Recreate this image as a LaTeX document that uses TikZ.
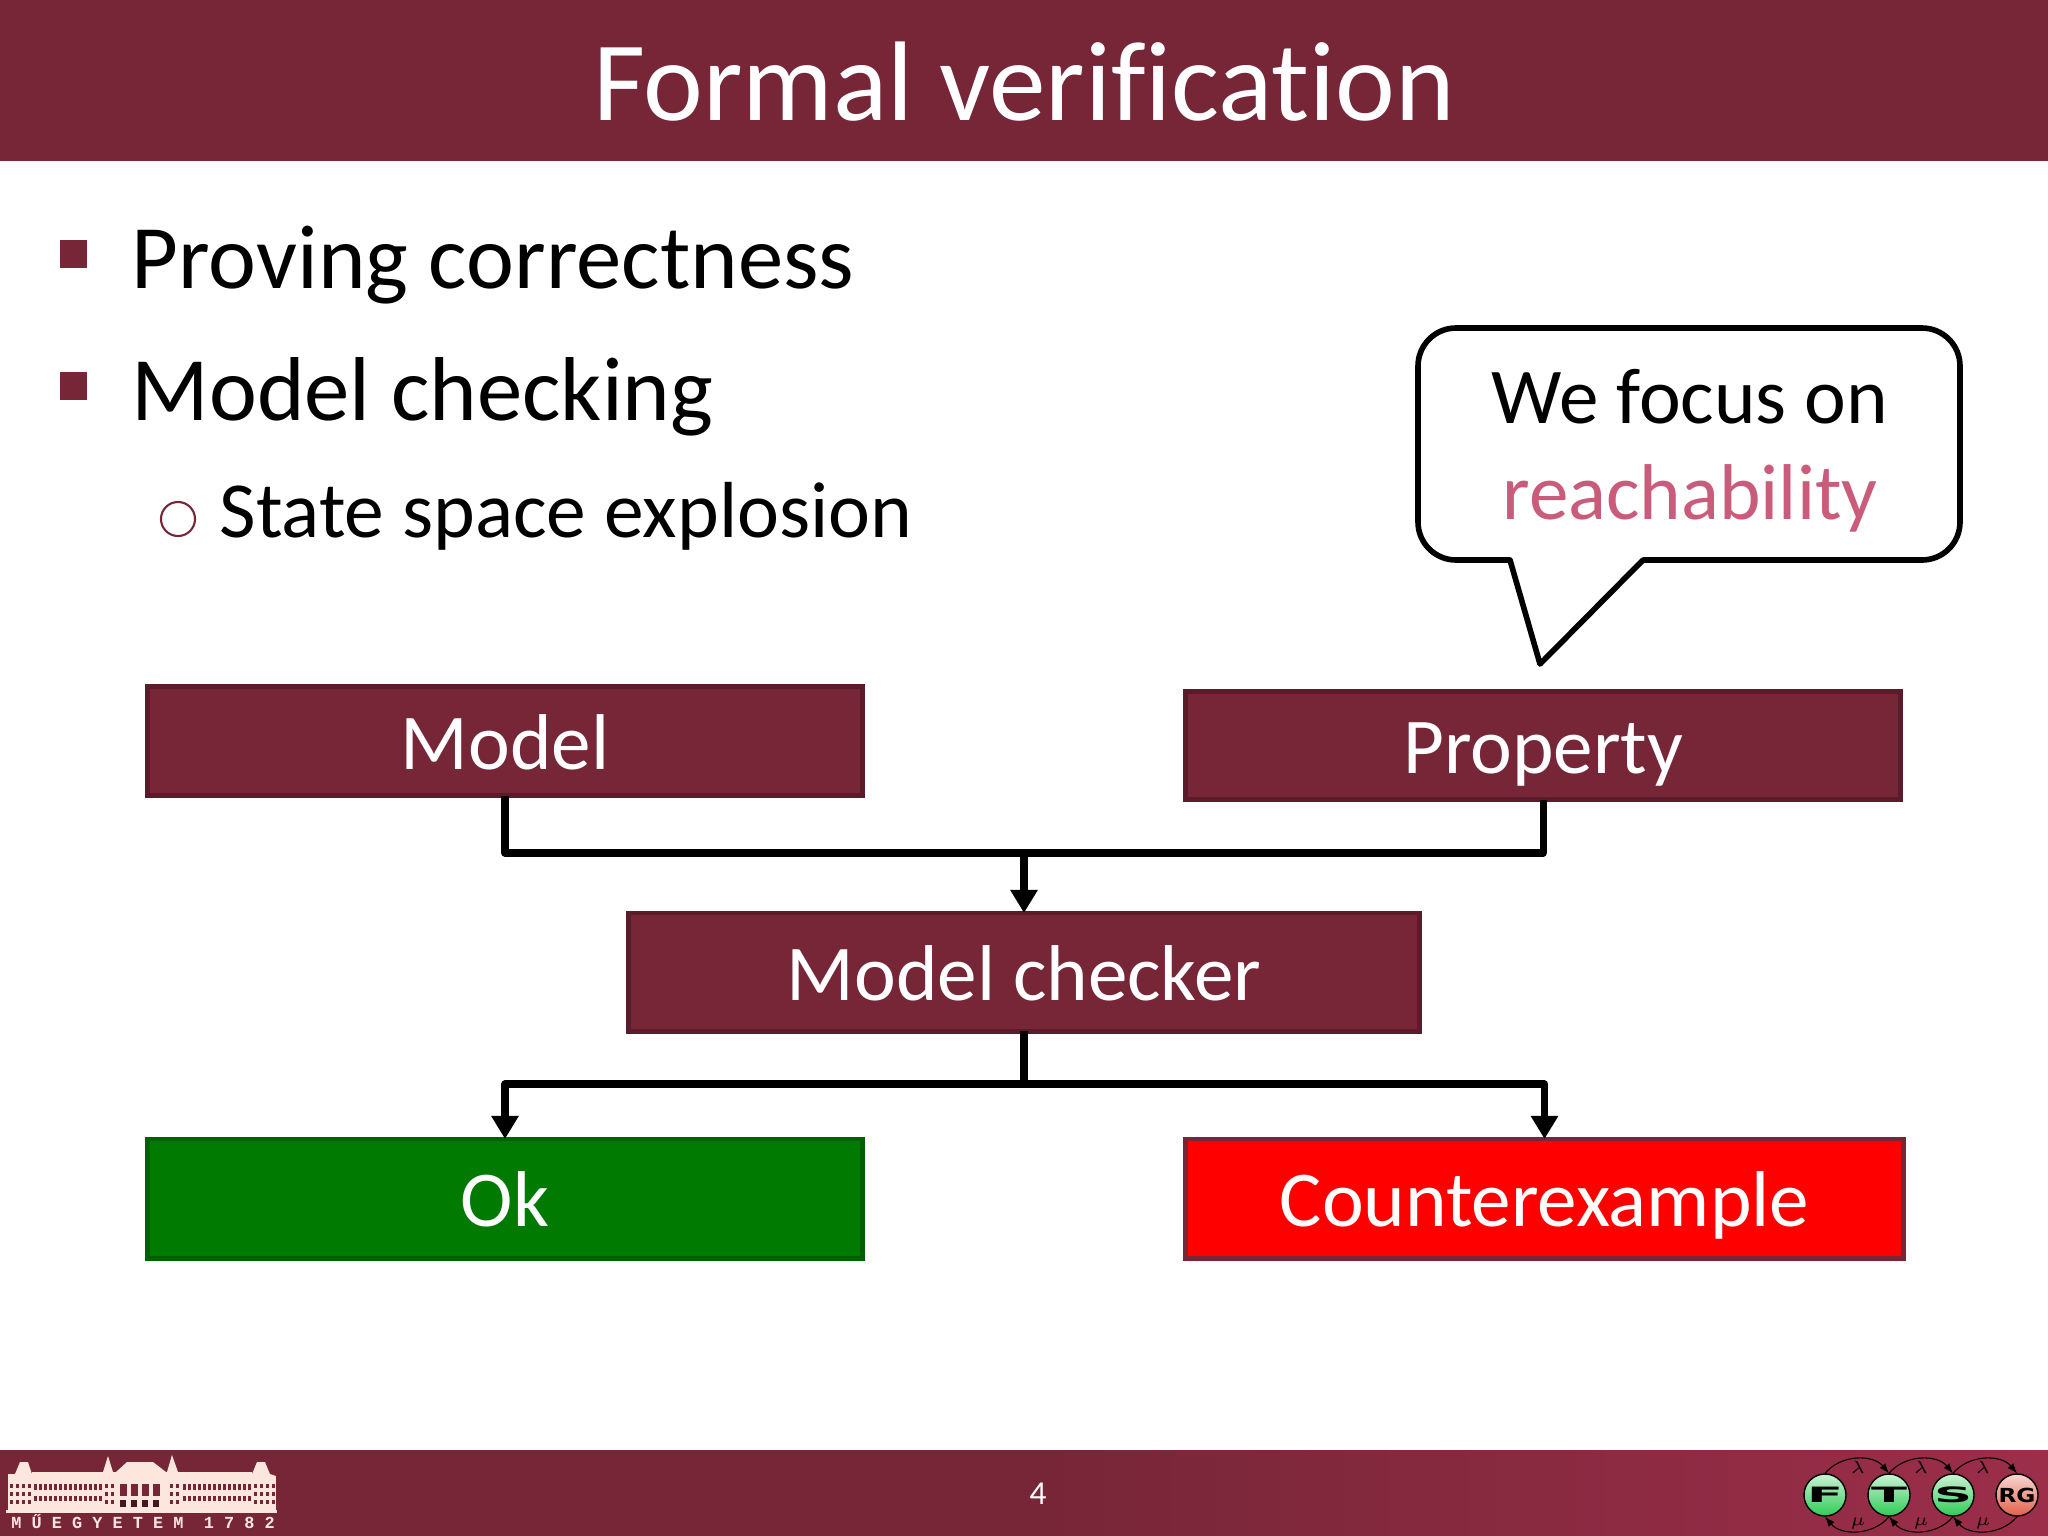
\documentclass[tikz,border=0pt]{standalone}
\usepackage{fontspec}
\setmainfont[Ligatures=CommonOff]{Carlito}
\newfontfamily\logofont[LetterSpace=60]{Liberation Mono Bold}
\newfontfamily\ballfont{DejaVu Sans Bold}
\usetikzlibrary{arrows.meta}
\definecolor{bmewine}{HTML}{762637}
\definecolor{bmewinedark}{HTML}{5A1C2B}
\definecolor{bmewinelight}{HTML}{9C2E4A}
\definecolor{reachpink}{HTML}{C95C7A}
\definecolor{okgreen}{HTML}{007A00}
\definecolor{okgreendark}{HTML}{006000}
\definecolor{cream}{HTML}{FCE6DE}
\definecolor{ballgreen}{HTML}{2ECC55}
\definecolor{ballsalmon}{HTML}{E2604A}
\tikzset{
	flowbox/.style={draw=bmewinedark,fill=bmewine,line width=1.4pt,text=white,inner sep=0pt,outer sep=0pt,
		font=\fontsize{22.5}{27}\selectfont,text height=16pt,text depth=0pt},
	bullettext/.style={anchor=base west,inner sep=0pt,font=\fontsize{25.8}{31}\selectfont},
	flowline/.style={line width=2pt,line join=round},
	flowarrow/.style={flowline,-{Triangle[length=0.23cm,width=0.26cm]}},
	ballnode/.style={circle,draw=black,line width=0.4pt,minimum size=0.42cm,inner sep=0pt,
		top color=#1!25!white,bottom color=#1,font=\ballfont\fontsize{6}{7}\selectfont},
	ballarc/.style={line width=0.3pt,-{Latex[length=1mm]}}
}
\begin{document}
\begin{tikzpicture}[x=0.01cm,y=-0.01cm]
	\useasboundingbox (0,0) rectangle (2048,1536);
	
	% Title and footer bands
	\fill[bmewine] (0,0) rectangle (2048,161);
	\shade[left color=bmewine,right color=bmewinelight,middle color=bmewine] (0,1450) rectangle (2048,1536);
	\node[text=white,font=\fontsize{32.2}{39}\selectfont,anchor=base,inner sep=0pt] (title) at (1024,120) {Formal verification};
	\node[text=white,font=\fontsize{9.5}{11}\selectfont,inner sep=0pt] (pagenum) at (1038,1494) {4};
	
	% Bullets
	\node[fill=bmewine,minimum size=0.27cm,inner sep=0pt] (bulletA) at (73.5,254) {};
	\node[fill=bmewine,minimum size=0.27cm,inner sep=0pt] (bulletB) at (73.5,386) {};
	\node[bullettext] (proving) at (131,288.5) {Proving correctness};
	\node[bullettext] (checking) at (131,420) {Model checking};
	\node[draw=bmewine,circle,line width=0.6pt,minimum size=0.34cm,inner sep=0pt] (bulletC) at (178,519) {};
	\node[bullettext,font=\fontsize{22.6}{27}\selectfont] (explosion) at (219,537.5) {State space explosion};
	
	% Speech bubble
	\draw[line width=1.6pt,line join=round] (1510,560) -- (1540,664) -- (1643,560)
	[rounded corners=0.38cm] -- (1960,560) -- (1960,328) -- (1418,328) -- (1418,560) [sharp corners] -- cycle;
	\node[font=\fontsize{22.5}{27}\selectfont,anchor=base,inner sep=0pt] (focus) at (1690,423) {We focus on};
	\node[font=\fontsize{22.5}{27}\selectfont,text=reachpink,anchor=base,inner sep=0pt] (reach) at (1690,519) {reachability};
	
	% Flow boxes
	\node[flowbox,minimum width=7.15cm,minimum height=1.09cm] (model) at (505,741) {Model};
	\node[flowbox,minimum width=7.15cm,minimum height=1.08cm] (property) at (1543,745.5) {Property};
	\node[flowbox,minimum width=7.9cm,minimum height=1.18cm] (checker) at (1024,972) {Model checker};
	\node[flowbox,draw=okgreendark,fill=okgreen,minimum width=7.15cm,minimum height=1.19cm] (ok) at (505,1198.5) {Ok};
	\node[flowbox,draw=bmewine,fill=red,minimum width=7.18cm,minimum height=1.19cm] (counter) at (1544.5,1198.5) {Counterexample};
	
	% Connectors
	\coordinate (merge) at (1024,853);
	\coordinate (split) at (1024,1084);
	\draw[flowline] (model.south) |- (merge);
	\draw[flowline] (property.south) |- (merge);
	\draw[flowarrow] (merge) -- (checker.north);
	\draw[flowline] (checker.south) -- (split);
	\draw[flowarrow] (split) -| (ok.north);
	\draw[flowarrow] (split) -| (counter.north);
	
	% University logo
	\fill[cream] (8,1476) rectangle (276,1512);
	\fill[cream] (8,1474) -- (15,1474) -- (20,1462) -- (28,1462) -- (32,1474) -- (32,1476) -- (8,1476) -- cycle;
	\fill[cream] (252,1474) -- (257,1462) -- (265,1462) -- (270,1474) -- (276,1476) -- (252,1476) -- cycle;
	\fill[cream] (116,1472) -- (127,1462) -- (153,1462) -- (166,1472) -- cycle;
	\fill[cream] (103,1472) -- (108,1456) -- (113,1472) -- cycle;
	\fill[cream] (167,1472) -- (172,1455) -- (178,1472) -- cycle;
	\fill[cream] (32,1472) rectangle (252,1478);
	\fill[cream] (6,1510) rectangle (277,1513);
	\foreach \winx in {34,39,...,99,183,188,...,248} {
		\fill[bmewine] (\winx,1484) rectangle ++(3,6);
		\fill[bmewine] (\winx,1496) rectangle ++(3,5);
	}
	\foreach \winx in {10,16,22,28,254,260,266,272,105,111,170,176} {
		\fill[bmewine] (\winx,1484) rectangle ++(3,4);
		\fill[bmewine] (\winx,1492) rectangle ++(3,4);
		\fill[bmewine] (\winx,1500) rectangle ++(3,4);
	}
	\foreach \winx in {120,131,142,153} {
		\fill[bmewine] (\winx,1484) rectangle ++(7,12);
		\fill[bmewine!60!black] (\winx,1500) rectangle ++(6,7);
	}
	\node[text=cream,font=\logofont\fontsize{4.8}{5}\selectfont,inner sep=0pt] (campus) at (143,1521.5) {MŰEGYETEM 1782};
	
	% Research group logo
	\node[ballnode=ballgreen] (ballF) at (1825,1495) {\scalebox{2.5}[1]{F}};
	\node[ballnode=ballgreen] (ballT) at (1889,1495) {\scalebox{2.5}[1]{T}};
	\node[ballnode=ballgreen] (ballS) at (1953,1495) {\scalebox{2.5}[1]{S}};
	\node[ballnode=ballsalmon,font=\ballfont\fontsize{5.5}{6}\selectfont] (ballR) at (2017,1495) {\scalebox{1.2}[1]{RG}};
	\draw[ballarc] (ballF.north) to[bend left=50] (ballT.north);
	\draw[ballarc] (ballT.north) to[bend left=50] (ballS.north);
	\draw[ballarc] (ballS.north) to[bend left=50] (ballR.north);
	\draw[ballarc] (ballT.south) to[bend left=50] (ballF.south);
	\draw[ballarc] (ballS.south) to[bend left=50] (ballT.south);
	\draw[ballarc] (ballR.south) to[bend left=50] (ballS.south);
	\foreach \lamx in {1858,1921,1983} {
		\node[font=\tiny,inner sep=0pt] at (\lamx,1467) {$\lambda$};
		\node[font=\tiny,inner sep=0pt] at (\lamx,1523) {$\mu$};
	}
	
\end{tikzpicture}
\end{document}
